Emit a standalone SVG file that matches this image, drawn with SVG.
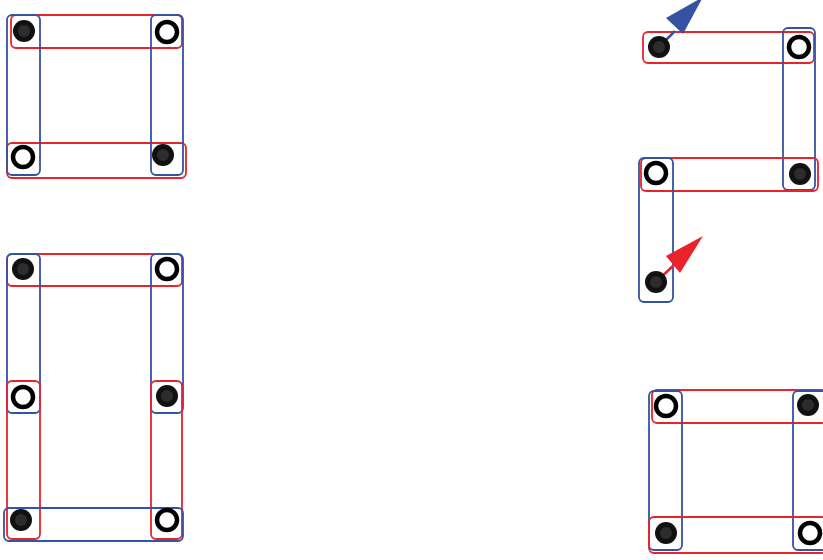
<svg xmlns="http://www.w3.org/2000/svg" width="823" height="560" viewBox="0 0 823 560">
<style>
.r{fill:none;stroke:#e8232b;stroke-width:1.8}
.b{fill:none;stroke:#3553a3;stroke-width:1.8}
.fo{fill:#111}
.fi{fill:#2e2c2d}
.o{fill:#fff;stroke:#000;stroke-width:4.5}
</style>
<defs>
<g id="fd"><circle r="11" class="fo"/><circle r="6" class="fi"/></g>
<g id="od"><circle r="10" class="o"/></g>
</defs>
<rect width="823" height="560" fill="#fff"/>
<g id="connectors">
<rect class="r" x="11" y="15" width="171" height="33" rx="5"/>
<rect class="r" x="7" y="143" width="179" height="35" rx="5"/>
<rect class="b" x="7" y="15" width="33" height="160" rx="5"/>
<rect class="b" x="151" y="15" width="32" height="160" rx="5"/>

<rect class="r" x="7" y="254" width="175" height="32" rx="5"/>
<rect class="b" x="7" y="254" width="33" height="159" rx="5"/>
<rect class="b" x="151" y="254" width="32" height="159" rx="5"/>
<rect class="r" x="7" y="381" width="33" height="158" rx="5"/>
<rect class="r" x="151" y="381" width="31" height="158" rx="5"/>
<rect class="b" x="4" y="508" width="179" height="33" rx="5"/>

<rect class="r" x="643" y="32" width="171" height="31" rx="5"/>
<rect class="b" x="783" y="28" width="32" height="162" rx="5"/>
<rect class="r" x="641" y="158" width="177" height="33" rx="5"/>
<rect class="b" x="639" y="158" width="34" height="144" rx="5"/>

<rect class="r" x="652" y="390" width="175" height="33" rx="5"/>
<rect class="b" x="649" y="391" width="33" height="159" rx="5"/>
<rect class="b" x="793" y="391" width="34" height="159" rx="5"/>
<rect class="r" x="649" y="517" width="178" height="36" rx="5"/>

<line x1="659" y1="47" x2="675" y2="31" stroke="#3553a3" stroke-width="2.5"/>
<polygon points="666,18 683,34 703,-3" fill="#3553a3"/>
<line x1="656" y1="282" x2="674" y2="265" stroke="#e8232b" stroke-width="2.5"/>
<polygon points="666,256 680,273 703,236" fill="#e8232b"/>
</g>
<g id="n1"><use href="#fd" x="24" y="31"/></g>
<g id="n2"><use href="#od" x="167" y="32"/></g>
<g id="n3"><use href="#od" x="23" y="157"/></g>
<g id="n4"><use href="#fd" x="163" y="155"/></g>

<g id="n5"><use href="#fd" x="23" y="269"/></g>
<g id="n6"><use href="#od" x="167" y="269"/></g>
<g id="n7"><use href="#od" x="23" y="397"/></g>
<g id="n8"><use href="#fd" x="167" y="396"/></g>
<g id="n9"><use href="#fd" x="21" y="520"/></g>
<g id="n10"><use href="#od" x="167" y="520"/></g>

<g id="n11"><use href="#fd" x="659" y="47"/></g>
<g id="n12"><use href="#od" x="799" y="47"/></g>
<g id="n13"><use href="#od" x="656" y="173"/></g>
<g id="n14"><use href="#fd" x="800" y="174"/></g>
<g id="n15"><use href="#fd" x="656" y="282"/></g>

<g id="n16"><use href="#od" x="666" y="406"/></g>
<g id="n17"><use href="#fd" x="808" y="405"/></g>
<g id="n18"><use href="#fd" x="666" y="533"/></g>
<g id="n19"><use href="#od" x="810" y="533"/></g>
</svg>
